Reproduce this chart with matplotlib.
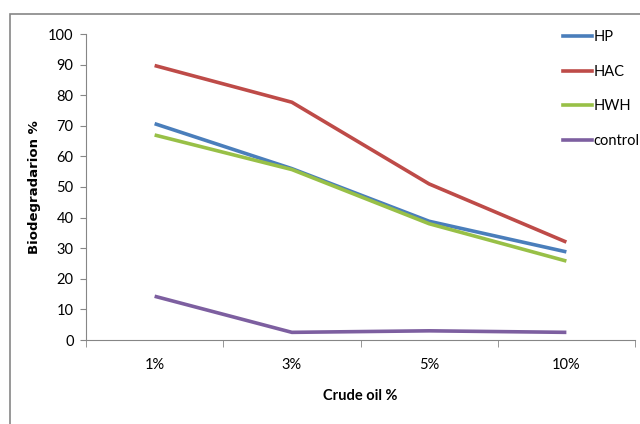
import matplotlib
matplotlib.use("Agg")
import matplotlib.pyplot as plt
from matplotlib.patches import Rectangle
from matplotlib.lines import Line2D

categories = ["1%", "3%", "5%", "10%"]
hp = [70.7, 56, 38.8, 28.8]
hac = [89.7, 77.7, 51, 32]
hwh = [67, 55.7, 38, 25.8]
control = [14.3, 2.5, 3, 2.5]

series = [("HP", hp, "#4a7ebb"), ("HAC", hac, "#be4b48"),
          ("HWH", hwh, "#98c047"), ("control", control, "#7d5fa0")]

plt.rcParams['font.family'] = ['Lato', 'DejaVu Sans']

W, H = 640, 424
fig = plt.figure(figsize=(6.4, 4.24), dpi=100)
fig.patches.append(Rectangle((10 / W, -0.1), 1.1, 1.1 - 14 / H,
                             transform=fig.transFigure, fill=False,
                             edgecolor="#868686", linewidth=1.2))
ax = fig.add_axes([86 / W, 1 - 340 / H, (635 - 86) / W, (340 - 34) / H])

x = range(len(categories))
for name, vals, c in series:
    ax.plot(x, vals, color=c, linewidth=2.6, label=name, solid_capstyle="butt")

ax.set_xlim(-0.5, len(categories) - 0.5)
ax.set_ylim(0, 100)
ax.set_yticks(range(0, 101, 10))
ax.set_xticks(list(x))
ax.set_xticklabels(categories, fontsize=10.5)
ax.set_xticks([i - 0.5 for i in range(len(categories) + 1)], minor=True)
ax.tick_params(axis="x", which="major", length=0, pad=13)
ax.tick_params(axis="x", which="minor", length=5, color="#868686", direction="out")
ax.tick_params(axis="y", length=4, color="#868686", labelsize=10.5, pad=5)
for s in ["top", "right"]:
    ax.spines[s].set_visible(False)
for s in ["left", "bottom"]:
    ax.spines[s].set_color("#868686")

ax.set_xlabel("Crude oil %", fontsize=10.5, fontweight="bold")
ax.xaxis.set_label_coords(0.5, -0.16)
ax.set_ylabel("Biodegradarion %", fontsize=9.5, fontweight="bold",
              family="DejaVu Sans")
ax.yaxis.set_label_coords(-0.082, 0.5)

handles = [Line2D([], [], color=c, linewidth=2.6) for _, _, c in series]
fig.legend(handles, [s[0] for s in series], loc="upper left",
           bbox_to_anchor=(563 / W, 1 - 30 / H), frameon=False,
           fontsize=10.5, handlelength=2.0, handletextpad=0.1,
           labelspacing=1.42, borderpad=0, borderaxespad=0)

fig.savefig("out.png", dpi=100)
